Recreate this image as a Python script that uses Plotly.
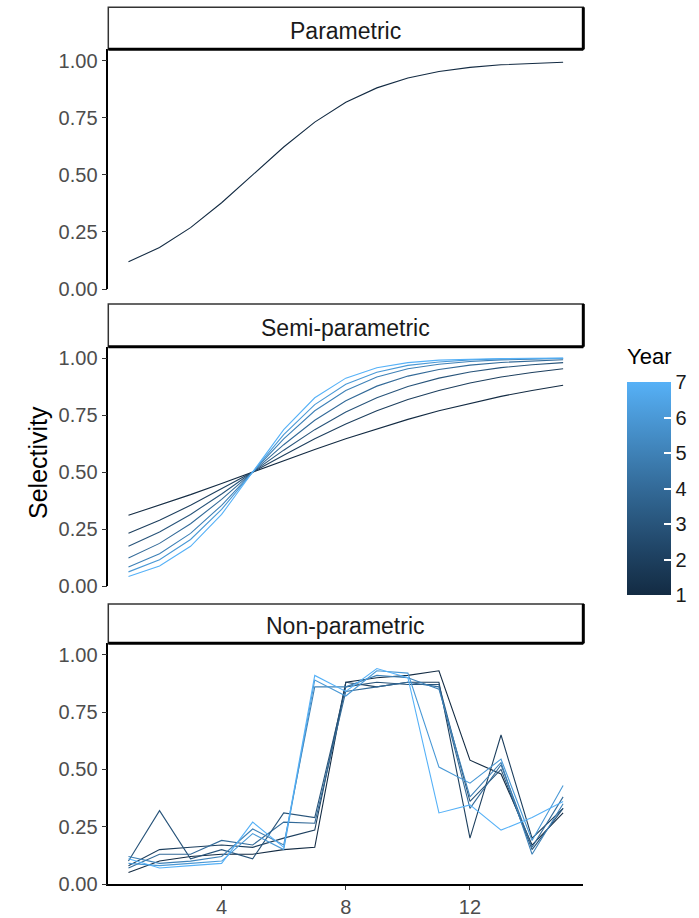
import plotly.graph_objects as go

# ---------------- data ----------------
ages = list(range(1, 16))
years = [1, 2, 3, 4, 5, 6, 7]

parametric = [0.119, 0.182, 0.269, 0.378, 0.500, 0.622, 0.731, 0.818,
              0.881, 0.924, 0.953, 0.971, 0.982, 0.989, 0.993]

semi_y1 = [0.310, 0.354, 0.401, 0.450, 0.500, 0.550, 0.599, 0.646, 0.690, 0.731, 0.769, 0.802, 0.832, 0.858, 0.881]
semi_y2 = [0.231, 0.289, 0.354, 0.426, 0.500, 0.574, 0.646, 0.711, 0.769, 0.818, 0.858, 0.891, 0.917, 0.937, 0.953]
semi_y3 = [0.174, 0.237, 0.314, 0.404, 0.500, 0.596, 0.686, 0.763, 0.826, 0.875, 0.912, 0.939, 0.958, 0.971, 0.980]
semi_y4 = [0.123, 0.187, 0.273, 0.380, 0.500, 0.620, 0.727, 0.813, 0.877, 0.921, 0.950, 0.969, 0.981, 0.988, 0.993]
semi_y5 = [0.083, 0.142, 0.231, 0.354, 0.500, 0.646, 0.769, 0.858, 0.917, 0.953, 0.973, 0.985, 0.992, 0.995, 0.998]
semi_y6 = [0.062, 0.115, 0.204, 0.336, 0.500, 0.664, 0.796, 0.885, 0.938, 0.968, 0.983, 0.992, 0.996, 0.998, 0.999]
semi_y7 = [0.042, 0.088, 0.174, 0.314, 0.500, 0.686, 0.826, 0.912, 0.958, 0.980, 0.991, 0.996, 0.998, 0.999, 1.000]
semi = [semi_y1, semi_y2, semi_y3, semi_y4, semi_y5, semi_y6, semi_y7]

nonp_y1 = [0.05, 0.10, 0.12, 0.13, 0.13, 0.15, 0.16, 0.88, 0.90, 0.91, 0.93, 0.54, 0.48, 0.17, 0.31]
nonp_y2 = [0.08, 0.15, 0.16, 0.17, 0.16, 0.20, 0.235, 0.88, 0.86, 0.88, 0.88, 0.20, 0.65, 0.20, 0.33]
nonp_y3 = [0.10, 0.32, 0.11, 0.15, 0.11, 0.31, 0.29, 0.86, 0.88, 0.87, 0.87, 0.36, 0.50, 0.15, 0.33]
nonp_y4 = [0.07, 0.13, 0.13, 0.19, 0.17, 0.27, 0.265, 0.84, 0.86, 0.88, 0.86, 0.33, 0.52, 0.16, 0.38]
nonp_y5 = [0.12, 0.09, 0.10, 0.12, 0.24, 0.17, 0.86, 0.86, 0.91, 0.90, 0.85, 0.38, 0.53, 0.13, 0.35]
nonp_y6 = [0.09, 0.08, 0.09, 0.10, 0.22, 0.15, 0.89, 0.82, 0.93, 0.92, 0.51, 0.44, 0.545, 0.19, 0.43]
nonp_y7 = [0.11, 0.07, 0.08, 0.09, 0.27, 0.16, 0.91, 0.84, 0.94, 0.90, 0.31, 0.345, 0.235, 0.29, 0.36]
nonp = [nonp_y1, nonp_y2, nonp_y3, nonp_y4, nonp_y5, nonp_y6, nonp_y7]

panel_titles = ["Parametric", "Semi-parametric", "Non-parametric"]
y_ticks = [0, 0.25, 0.5, 0.75, 1.0]
x_ticks = [4, 8, 12]

# ---------------- colour gradient (Lab interpolation) ----------------
LOW, HIGH = "#132B43", "#56B1F7"


def _srgb_to_lin(c):
    return c / 12.92 if c <= 0.04045 else ((c + 0.055) / 1.055) ** 2.4


def _lin_to_srgb(c):
    c = max(0.0, min(1.0, c))
    return 12.92 * c if c <= 0.0031308 else 1.055 * c ** (1 / 2.4) - 0.055


def hex_to_lab(h):
    r, g, b = (_srgb_to_lin(int(h[i:i + 2], 16) / 255) for i in (1, 3, 5))
    X = (0.4124 * r + 0.3576 * g + 0.1805 * b) / 0.95047
    Y = (0.2126 * r + 0.7152 * g + 0.0722 * b) / 1.0
    Z = (0.0193 * r + 0.1192 * g + 0.9505 * b) / 1.08883
    f = lambda t: t ** (1 / 3) if t > 0.008856 else 7.787 * t + 16 / 116
    fx_, fy_, fz_ = f(X), f(Y), f(Z)
    return (116 * fy_ - 16, 500 * (fx_ - fy_), 200 * (fy_ - fz_))


def lab_to_hex(lab):
    L, a, b = lab
    fy_ = (L + 16) / 116
    fx_ = fy_ + a / 500
    fz_ = fy_ - b / 200
    inv = lambda t: t ** 3 if t ** 3 > 0.008856 else (t - 16 / 116) / 7.787
    X, Y, Z = inv(fx_) * 0.95047, inv(fy_), inv(fz_) * 1.08883
    r = 3.2406 * X - 1.5372 * Y - 0.4986 * Z
    g = -0.9689 * X + 1.8758 * Y + 0.0415 * Z
    bb = 0.0557 * X - 0.2040 * Y + 1.0570 * Z
    return "#%02X%02X%02X" % tuple(round(_lin_to_srgb(c) * 255) for c in (r, g, bb))


LAB_LO, LAB_HI = hex_to_lab(LOW), hex_to_lab(HIGH)


def grad(t):
    return lab_to_hex(tuple(lo + (hi - lo) * t for lo, hi in zip(LAB_LO, LAB_HI)))


year_colors = [grad((y - years[0]) / (years[-1] - years[0])) for y in years]
colorscale = [[i / 10, grad(i / 10)] for i in range(11)]

# ---------------- geometry (pixels) ----------------
W, H = 699, 918
PX_L, PX_R = 108.3, 583.3
panel_top = [49.3, 346.7, 643.3]
panel_bot = [289.0, 586.0, 884.0]
strip_top = [7.3, 304.0, 604.0]
CB_TOP, CB_BOT = 382.0, 595.0


def fx(p):
    return p / W


def fy(p):
    return 1 - p / H


FONT = "Liberation Sans, Arial, sans-serif"
TICK_COL = "#4D4D4D"
LINE_W = 1.1

fig = go.Figure()

# parametric panel
fig.add_trace(go.Scatter(x=ages, y=parametric, mode="lines", xaxis="x", yaxis="y",
                         line=dict(color=year_colors[0], width=LINE_W), showlegend=False))

# semi-parametric panel
for yr, vals, col in zip(years, semi, year_colors):
    fig.add_trace(go.Scatter(x=ages, y=vals, mode="lines", xaxis="x2", yaxis="y2",
                             line=dict(color=col, width=LINE_W), showlegend=False))

# non-parametric panel
for yr, vals, col in zip(years, nonp, year_colors):
    fig.add_trace(go.Scatter(x=ages, y=vals, mode="lines", xaxis="x3", yaxis="y3",
                             line=dict(color=col, width=LINE_W), showlegend=False))

# colour bar holder
fig.add_trace(go.Scatter(
    x=[None], y=[None], mode="markers", xaxis="x3", yaxis="y3", showlegend=False,
    marker=dict(color=[years[0], years[-1]], cmin=years[0], cmax=years[-1],
                colorscale=colorscale, showscale=True, size=0,
                colorbar=dict(
                    x=fx(627), xanchor="left", xpad=0,
                    y=fy((CB_TOP + CB_BOT) / 2), yanchor="middle", ypad=0,
                    len=CB_BOT - CB_TOP, lenmode="pixels", thickness=44, thicknessmode="pixels",
                    outlinewidth=0, tickvals=years, ticks="inside", ticklen=7,
                    tickcolor="#FFFFFF", tickwidth=1.5,
                    tickfont=dict(family=FONT, size=20, color="#1A1A1A"),
                ))))

axis_common = dict(range=[0.35, 15.65], showgrid=False, zeroline=False)
yaxis_common = dict(range=[0, 1.05], showgrid=False, zeroline=False, tickvals=y_ticks,
                    tickformat=".2f", ticks="outside", ticklen=5, tickwidth=1.2,
                    tickcolor="#333333", showline=True, linecolor="#000000", linewidth=1.5,
                    tickfont=dict(family=FONT, size=20, color=TICK_COL))

layout = dict(width=W, height=H, margin=dict(l=0, r=0, t=0, b=0, autoexpand=False),
              paper_bgcolor="white", plot_bgcolor="white", showlegend=False)
names = ["", "2", "3"]
for i, n in enumerate(names):
    anchor_y = "y" + n
    xa = dict(axis_common, domain=[fx(PX_L), fx(PX_R)], anchor=anchor_y)
    if i < 2:
        xa.update(showticklabels=False, showline=False, ticks="")
    else:
        xa.update(tickvals=x_ticks, ticks="outside", ticklen=4, tickwidth=1.2,
                  tickcolor="#333333", showline=True, linecolor="#000000", linewidth=1.5,
                  tickfont=dict(family=FONT, size=20, color=TICK_COL))
    ya = dict(yaxis_common, domain=[fy(panel_bot[i]), fy(panel_top[i])], anchor="x" + n)
    layout["xaxis" + n] = xa
    layout["yaxis" + n] = ya

shapes, annotations = [], []
for i, title in enumerate(panel_titles):
    x0, x1 = fx(PX_L), fx(PX_R)
    y0, y1 = fy(panel_top[i]), fy(strip_top[i])
    shapes.append(dict(type="rect", xref="paper", yref="paper", x0=x0, x1=x1, y0=y0, y1=y1,
                       fillcolor="white", line=dict(color="#333333", width=1.5)))
    shapes.append(dict(type="line", xref="paper", yref="paper", x0=x0, x1=x1, y0=y0, y1=y0,
                       line=dict(color="#000000", width=3)))
    shapes.append(dict(type="line", xref="paper", yref="paper", x0=x1, x1=x1, y0=y0, y1=y1,
                       line=dict(color="#000000", width=3)))
    label_y = fy((panel_top[i] + strip_top[i]) / 2 + 2.5)
    annotations.append(dict(text=title, xref="paper", yref="paper", x=(x0 + x1) / 2,
                            y=label_y, showarrow=False, xanchor="center", yanchor="middle",
                            font=dict(family=FONT, size=23, color="#1A1A1A")))

annotations.append(dict(text="Selectivity", xref="paper", yref="paper", x=fx(38), y=fy(463),
                        showarrow=False, textangle=-90, xanchor="center", yanchor="middle",
                        font=dict(family=FONT, size=25, color="#000000")))
annotations.append(dict(text="Year", xref="paper", yref="paper", x=fx(625), y=fy(356),
                        showarrow=False, xanchor="left", yanchor="middle",
                        font=dict(family=FONT, size=22, color="#000000")))

layout["shapes"] = shapes
layout["annotations"] = annotations
fig.update_layout(**layout)

fig.write_html("out.html")
